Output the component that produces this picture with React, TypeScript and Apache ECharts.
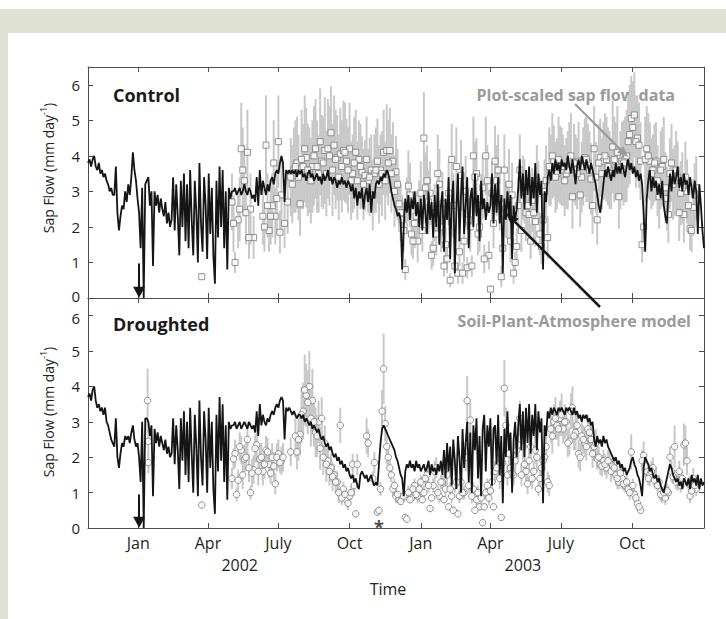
import React, { useEffect, useRef } from "react";
import * as echarts from "echarts";

// ---------- DATA ----------
// Model (Soil-Plant-Atmosphere) daily output, sampled every 2 days from 2001-10-28
const MODEL_START: [number, number, number] = [2001, 9, 28];
const MODEL_STEP_DAYS = 2;

const controlModel = [
  3.8, 3.9, 3.7, 3.9, 4.0, 3.7, 3.6, 3.8, 3.5, 3.6,
  3.4, 3.5, 3.3, 3.2, 3.0, 3.1, 2.9, 2.9, 3.7, 2.4,
  1.9, 2.3, 2.6, 2.5, 3.0, 2.7, 3.2, 2.9, 3.4, 4.1,
  3.6, 3.3, 2.8,
  2.4, 1.4, 3.1, 0.0, 3.2,
  3.3, 3.4, 2.6, 3.0, 0.9, 3.0, 2.6, 2.9, 2.4, 2.8,
  2.5, 2.3, 2.7, 2.1, 2.4, 2.0, 2.2, 3.4, 1.9, 3.2,
  2.3, 1.2, 3.3, 2.0, 3.5, 1.6, 3.2, 1.4, 3.6, 2.2,
  1.2, 3.3, 2.4, 1.0, 3.8, 2.1, 1.3, 3.4, 2.6, 1.1,
  3.5, 1.8, 3.1, 1.2, 0.4, 3.3, 1.7, 3.7, 2.0, 3.6,
  1.4, 3.0, 0.8, 3.1, 2.8, 3.0,
  3.0, 3.1, 2.9, 3.0, 3.1, 2.9, 3.0, 3.2, 3.0, 2.9,
  3.1, 3.0, 2.8, 2.9, 2.7, 3.4, 2.6, 3.6, 2.9, 3.3,
  3.1, 2.9, 3.2, 3.0, 3.3, 3.4, 3.2, 3.5, 3.6, 3.5,
  3.8, 4.0, 3.8, 2.7, 3.6, 3.5, 3.6, 3.5, 3.6, 3.5,
  3.6, 3.4, 3.6,
  3.5, 3.6, 3.4, 3.5, 3.3, 3.5, 3.6, 3.4, 3.5, 3.3,
  3.4, 3.5, 3.3, 3.4, 3.2, 3.5, 3.3, 3.4, 3.6, 3.3,
  3.4, 3.2, 3.4, 3.3, 3.1, 3.3, 3.2, 3.4, 3.2, 3.3,
  3.1, 3.3, 3.2, 3.0, 3.2, 2.8, 3.1, 2.6, 3.0, 2.8,
  3.1, 2.5, 2.9, 3.1, 2.7, 3.2, 2.4, 3.0, 2.8, 3.2,
  3.3, 3.2, 3.4, 3.3, 3.5, 3.4, 3.6, 3.5, 3.3, 3.0,
  2.8, 2.6, 2.5, 2.3, 2.4, 2.2, 0.8, 2.0, 2.8, 2.4,
  2.9, 2.2, 2.8, 2.5, 3.0, 2.3, 2.7, 2.0, 2.8, 1.9,
  2.9, 2.4, 1.8, 3.0, 2.2, 2.7, 1.7, 2.9, 2.0, 3.2,
  1.5, 2.6, 3.0, 1.3, 2.8, 2.2, 3.4, 1.1, 2.7, 3.3,
  0.7, 2.5, 3.5, 1.6, 2.9, 3.7, 1.8, 2.6, 3.4, 1.4,
  2.8, 3.1, 2.0, 3.5, 2.3, 2.9, 1.6, 3.3, 2.5, 2.8,
  2.2, 2.7, 2.4, 2.6, 3.5, 2.1,
  3.2, 2.4, 3.4, 2.1, 2.9, 0.7, 2.8, 2.2, 3.0, 2.3,
  2.9, 1.1, 2.6, 2.2, 2.5, 3.1, 3.9, 2.8, 3.5, 2.5,
  3.6, 2.9, 3.7, 2.6, 3.4, 2.8, 3.8, 2.4, 3.5, 2.9,
  3.3, 0.8, 3.0, 2.7, 3.4, 3.6, 3.3, 3.8, 3.5, 3.9,
  3.6, 3.8, 3.5, 3.9, 3.7, 3.8, 3.6, 4.0, 3.7, 3.5,
  3.9, 3.6, 3.2, 3.7, 3.9, 3.6, 4.0, 3.8, 3.6, 3.9,
  3.7, 3.5, 3.8, 3.6, 3.4, 3.2, 2.9, 2.6, 2.4, 2.8,
  3.2, 3.6, 3.4, 3.7, 3.5, 3.3, 3.6, 3.4, 3.8, 3.5,
  3.7, 3.5, 3.8, 3.6, 3.4, 3.7, 3.9, 3.6, 3.8, 3.5,
  3.7, 3.4, 3.6, 3.3, 3.5, 3.2, 2.4, 1.3, 2.8, 3.3,
  3.6, 3.0, 3.4, 3.1, 3.3, 2.9, 3.2, 2.8, 3.3, 2.6,
  2.3, 2.1, 2.9, 3.5, 3.0, 3.6, 3.2, 3.4, 3.7, 3.1,
  3.4, 3.0, 3.5, 3.2, 3.3, 2.9, 3.4, 3.1, 2.8, 3.3,
  3.0, 1.8, 3.2, 2.6, 1.9, 1.4,
];

const droughtModel = [
  3.7, 3.8, 3.6, 3.9, 4.0, 3.6, 3.4, 3.5, 3.3, 3.4,
  3.2, 3.4, 3.0, 2.9, 2.7, 2.5, 2.4, 2.3, 3.1, 2.0,
  1.7, 2.1, 2.4, 2.3, 2.6, 2.5, 2.6, 2.4, 2.7, 2.9,
  2.5, 2.3, 2.4,
  2.0, 1.3, 3.0, 0.0, 3.1,
  3.1, 3.0, 2.6, 2.9, 0.9, 2.8, 2.4, 2.7, 2.3, 2.6,
  2.4, 2.2, 2.5, 2.1, 2.3, 2.0, 2.1, 3.1, 1.8, 2.9,
  2.2, 1.1, 3.1, 1.9, 3.3, 1.5, 3.0, 1.3, 3.4, 2.1,
  1.0, 3.2, 2.3, 0.9, 3.6, 2.0, 1.2, 3.3, 2.5, 1.0,
  3.4, 1.7, 3.0, 1.1, 0.4, 3.2, 1.6, 3.7, 1.9, 3.5,
  1.3, 2.9, 0.8, 3.0, 2.8, 2.9,
  2.9, 3.0, 2.8, 2.9, 3.0, 2.8, 2.9, 3.0, 2.9, 2.8,
  3.0, 2.9, 2.8, 2.9, 2.7, 3.3, 2.6, 3.5, 2.9, 3.2,
  3.0, 2.9, 3.1, 3.0, 3.2, 3.3, 3.2, 3.4, 3.5, 3.4,
  3.6, 3.7, 3.6, 2.5, 3.4, 3.3, 3.4, 3.3, 3.2, 3.3,
  3.2, 3.1, 3.2,
  3.2, 3.1, 3.2, 3.0, 3.1, 3.0, 2.9, 3.0, 2.8, 2.9,
  2.8, 2.7, 2.8, 2.6, 2.5, 2.6, 2.4, 2.3, 2.4, 2.2,
  2.3, 2.1, 2.0, 2.1, 1.9, 2.0, 1.8, 1.9, 1.7, 1.8,
  1.6, 1.7, 1.5, 1.4, 1.5, 1.3, 1.4, 1.2, 1.1, 1.5,
  1.6, 1.5, 1.4, 1.5, 1.3, 1.4, 1.5, 1.3, 1.2, 1.3,
  1.2, 1.8, 2.4, 2.8, 2.9, 2.8, 2.7, 2.6, 2.5, 2.4,
  2.3, 2.2, 2.0, 1.9, 1.7, 1.5, 1.4, 0.9, 1.6, 1.8,
  1.7, 1.9, 1.7, 1.8, 1.6, 1.9, 1.7, 1.8, 1.6, 1.7,
  1.8, 1.6, 1.7, 1.9, 1.5, 1.8, 1.6, 1.7, 1.5, 1.8,
  1.6, 1.9, 1.5, 2.2, 1.4, 2.4, 1.6, 2.3, 1.2, 2.5,
  1.9, 1.1, 2.6, 2.0, 1.0, 2.8, 1.7, 2.4, 3.0, 1.3,
  2.7, 1.0, 2.9, 2.2, 3.1, 1.4, 2.6, 0.9, 2.8, 3.2,
  1.6, 2.9, 2.3, 3.1, 1.2, 2.8,
  2.9, 1.8, 3.2, 1.5, 2.6, 0.7, 2.8, 2.0, 3.3, 2.2,
  2.7, 1.0, 2.5, 3.0, 2.0, 2.9, 3.5, 2.2, 3.3, 2.0,
  3.4, 2.4, 3.5, 2.1, 3.2, 2.6, 3.5, 2.2, 3.3, 2.7,
  3.1, 0.7, 2.9, 2.6, 3.3, 3.1, 3.4, 3.2, 3.4, 3.3,
  3.2, 3.4, 3.3, 3.4, 3.3, 3.2, 3.4, 3.3, 3.4, 3.3,
  3.2, 3.4, 3.2, 3.3, 3.1, 3.2, 3.0, 3.2, 3.1, 3.2,
  3.0, 3.1, 2.9, 3.0, 2.5, 2.3, 2.6, 2.4, 2.5, 2.3,
  2.6, 2.4, 2.5, 2.3, 2.2, 2.1, 2.0, 1.9, 2.0, 1.8,
  1.9, 1.7, 1.8, 1.6, 1.7, 1.5, 1.6, 1.7, 1.9, 2.0,
  1.8, 1.7, 1.5, 1.4, 1.2, 0.9, 1.7, 2.0, 1.9, 1.8,
  1.6, 1.7, 1.5, 1.4, 1.5, 1.3, 1.4, 1.2, 1.1, 1.0,
  1.2, 1.4, 1.6, 1.8, 1.7, 1.5, 1.4, 1.3, 1.4, 1.2,
  1.3, 1.1, 1.4, 1.3, 1.2, 1.4, 1.1, 1.5, 1.3, 1.4,
  1.2, 1.5, 1.1, 1.4, 1.2, 1.3,
];

// Plot-scaled sap flow observations (mean and half-range).
// Set A: every 4 days from 2002-05-02; set B: every 4 days from 2002-05-04.
const OBS_A_START: [number, number, number] = [2002, 4, 2];
const OBS_B_START: [number, number, number] = [2002, 4, 4];
const OBS_STEP_DAYS = 4;

const controlObsA = [
  2.7, 1.0, 2.2, 4.2, 3.3, 4.1, 2.5, 1.7, null, null,
  2.3, 4.3, 1.9, 2.6, 2.3, 4.4, 2.9, 2.1, 2.7, 3.4,
  3.6, 3.8, 2.65, 3.7, 3.95, 3.6, 3.7, 4.2, 3.5, 3.85,
  4.15, 4.2, 4.65, 4.3, 3.95, 4.05, 4.15, 3.85, 4.2, 3.5,
  4.1, 3.9, 3.55, 3.45, 3.3, 3.6, 3.5, 3.85, 3.6, 4.1,
  4.15, 4.15, 3.85, 3.55, 2.65, 2.2, 0.8, 3.15, 1.8, 2.1,
  1.6, 2.95, 4.5, 3.3, 2.95, 1.4, 1.8, 3.2, 2.65, 1.5,
  2.95, 3.9, 0.9, 0.7, 3.45, 1.6, 0.85, 2.0, 4.0, 3.5,
  2.0, 3.1, 4.0, 1.2, 2.95, 3.85, 3.6, 0.6, 3.6, 2.45,
  1.6, 0.7, 1.45, 3.6, 3.1, 2.4, 2.35, 2.75, 2.15, 2.95,
  1.45, 3.0, 1.7, 3.6, 3.85, 3.5, 3.75, 3.6, 3.5, 3.85,
  2.85, 3.6, 3.85, 3.4, 3.95, 3.8, 3.35, 4.2, 2.2, 3.95,
  3.85, 3.9, 3.6, 4.25, 3.85, 2.85, 3.85, 3.9, 4.4, 5.05,
  5.15, 4.5, 3.85, 2.0, 4.2, 3.85, 3.6, 3.85, 2.85, 3.7,
  3.1, 2.35, 3.8, 3.3, 3.4, 2.95, 2.35, 3.0, 1.95, 2.55,
  3.1,
];
const controlErrA = [
  0.8, 0.3, 0.8, 1.3, 1.0, 1.2, 1.0, 0.6, null, null,
  0.8, 1.4, 0.6, 0.9, 0.8, 1.3, 1.0, 0.7, 0.9, 1.1,
  1.2, 1.3, 0.9, 1.2, 1.4, 1.2, 1.3, 1.4, 1.1, 1.3,
  1.5, 1.4, 1.3, 1.4, 1.2, 1.3, 1.4, 1.2, 1.3, 1.1,
  1.2, 1.1, 1.0, 1.0, 0.9, 1.0, 1.1, 1.2, 1.0, 1.2,
  1.3, 1.2, 1.1, 1.0, 0.8, 0.7, 0.3, 1.0, 0.6, 0.7,
  0.6, 0.9, 1.3, 1.0, 0.9, 0.5, 0.6, 1.0, 0.9, 0.5,
  0.9, 1.0, 0.3, 0.3, 1.0, 0.6, 0.3, 0.7, 1.1, 1.0,
  0.7, 0.9, 1.1, 0.4, 0.9, 1.0, 1.0, 0.3, 1.0, 0.8,
  0.6, 0.3, 0.5, 1.0, 0.9, 0.8, 0.8, 0.9, 0.7, 0.9,
  0.5, 0.9, 0.6, 1.0, 1.0, 1.0, 1.1, 1.0, 1.0, 1.1,
  0.9, 1.0, 1.1, 1.0, 1.1, 1.1, 1.0, 1.2, 0.7, 1.1,
  1.1, 1.2, 1.1, 1.3, 1.1, 0.9, 1.1, 1.2, 1.3, 1.2,
  1.2, 1.2, 1.1, 0.7, 1.2, 1.1, 1.0, 1.1, 0.9, 1.1,
  1.0, 0.8, 1.1, 1.0, 1.0, 0.9, 0.8, 0.9, 0.6, 0.8,
  0.9,
];
const controlObsB = [
  2.1, null, 2.5, 3.6, 2.4, 1.7, null, null, null, null,
  2.0, 2.6, 2.3, 3.8, 2.8, 1.85, null, null, null, 3.2,
  3.7, 3.4, 3.9, 4.2, 3.6, 3.3, 4.0, 3.7, 4.4, 3.8,
  3.5, 4.0, 3.6, 3.9, 3.4, 3.7, 4.1, 3.6, 3.3, 3.8,
  3.3, 3.7, 3.2, 3.9, 3.4, 2.9, 3.6, 3.2, 3.5, 3.3,
  3.8, 3.5, 3.0, 3.2, 2.4, 1.9, 2.6, 2.9, 1.6, 2.3,
  2.5, 1.9, 3.1, 2.7, 1.2, 2.4, 3.5, 2.0, 0.9, 1.1,
  0.5, 2.6, 3.7, 1.3, 0.7, 3.0, 2.2, 0.9, 3.4, 1.8,
  2.6, 1.1, 3.3, 0.25, 2.1, 3.3, 2.8, 1.4, 2.5, 3.2,
  2.9, 1.0, 2.6, 1.9, 3.0, 2.6, 1.6, 2.4, 3.3, 1.8,
  2.2, 3.3, 3.7, 4.0, 3.4, 3.9, 3.7, 3.3, 3.6, 4.0,
  3.8, 3.5, 2.9, 3.7, 3.9, 3.6, 2.6, 3.4, 3.8, 3.5,
  4.0, 3.7, 3.5, 3.9, 4.1, 3.6, 3.8, 4.0, 4.6, 4.8,
  4.4, 4.3, 1.5, 3.9, 4.0, 3.5, 3.8, 3.3, 3.6, 3.9,
  2.8, 3.5, 3.2, 3.6, 2.4, 3.1, 3.4, 2.6, 1.9, 2.9,
];
const controlErrB = [
  0.8, null, 0.9, 1.2, 0.9, 0.6, null, null, null, null,
  0.7, 0.9, 0.8, 1.2, 1.0, 0.6, null, null, null, 1.1,
  1.3, 1.2, 1.4, 1.5, 1.3, 1.2, 1.4, 1.3, 1.5, 1.3,
  1.2, 1.4, 1.3, 1.4, 1.2, 1.3, 1.4, 1.2, 1.1, 1.3,
  1.1, 1.2, 1.0, 1.2, 1.1, 1.0, 1.2, 1.1, 1.2, 1.1,
  1.2, 1.1, 1.0, 1.0, 0.8, 0.6, 0.8, 0.9, 0.5, 0.7,
  0.8, 0.6, 1.0, 0.9, 0.4, 0.8, 1.1, 0.7, 0.3, 0.4,
  0.2, 0.9, 1.1, 0.4, 0.3, 1.0, 0.7, 0.3, 1.0, 0.6,
  0.9, 0.4, 1.0, 0.1, 0.7, 1.0, 0.9, 0.5, 0.8, 1.0,
  0.9, 0.3, 0.8, 0.6, 0.9, 0.8, 0.5, 0.8, 1.0, 0.6,
  0.7, 1.0, 1.1, 1.2, 1.0, 1.2, 1.1, 1.0, 1.1, 1.2,
  1.1, 1.0, 0.9, 1.1, 1.2, 1.1, 0.8, 1.0, 1.1, 1.0,
  1.2, 1.1, 1.0, 1.2, 1.3, 1.1, 1.2, 1.3, 1.4, 1.3,
  1.3, 1.2, 0.5, 1.2, 1.2, 1.0, 1.1, 1.0, 1.1, 1.2,
  0.9, 1.0, 1.0, 1.1, 0.8, 1.0, 1.0, 0.8, 0.6, 0.9,
];

const droughtObsA = [
  1.4, 2.1, 1.35, 2.2, 1.95, 2.5, 1.0, 1.65, 2.35, 1.95,
  1.6, 2.2, 1.8, 2.0, 1.25, 2.1, 1.9, null, null, 2.15,
  null, 2.15, 2.65, 3.3, 3.75, 4.0, 3.6, 2.7, 3.0, 3.1,
  2.4, 1.9, 1.7, 1.5, 1.3, 2.9, 1.1, 0.8, 0.9, 1.8,
  0.4, null, null, null, 2.4, null, 1.85, 0.45, 1.1, 4.5,
  2.3, 1.7, 1.1, 0.9, 0.8, 0.85, 0.3, 1.0, 0.85, 1.2,
  0.9, 1.3, 1.0, 1.5, 0.55, 1.2, 1.7, 0.9, 1.3, 1.1,
  0.6, 0.9, 1.2, 0.4, 1.3, 1.0, 3.6, 3.05, 1.1, 0.8,
  0.6, 0.15, 1.0, 0.85, 1.3, 1.6, 1.8, 0.3, 3.95, 1.5,
  1.7, 1.5, 2.2, 3.1, 2.3, 1.6, 1.9, 1.4, 2.2, 1.1,
  1.7, 2.0, 1.3, 2.8, 3.0, 2.9, 3.1, 2.8, 3.0, 2.45,
  3.4, 2.7, 2.1, 2.6, 2.4, 2.8, 2.5, 2.3, 1.95, 1.8,
  1.9, 1.7, 1.85, 1.75, 1.5, 1.3, 1.4, 1.2, 1.1, 2.15,
  0.95, 0.7, 0.5, 2.05, 1.6, 1.5, 1.7, 1.4, 1.3, 0.9,
  0.85, 1.0, 1.6, 2.3, 1.35, 1.2, 2.35, 1.9, 0.9, 1.4,
  1.1,
];
const droughtErrA = [
  0.3, 0.4, 0.3, 0.4, 0.4, 0.5, 0.2, 0.4, 0.5, 0.4,
  0.4, 0.4, 0.4, 0.4, 0.3, 0.4, 0.4, null, null, 0.4,
  null, 0.5, 0.6, 0.8, 0.9, 1.0, 0.9, 0.7, 0.6, 0.6,
  0.5, 0.4, 0.4, 0.3, 0.3, 0.5, 0.2, 0.2, 0.2, 0.3,
  0.1, null, null, null, 0.4, null, 0.3, 0.1, 0.2, 1.0,
  0.5, 0.3, 0.2, 0.2, 0.1, 0.1, 0.1, 0.2, 0.1, 0.2,
  0.2, 0.2, 0.2, 0.3, 0.1, 0.2, 0.3, 0.2, 0.2, 0.2,
  0.1, 0.2, 0.2, 0.1, 0.3, 0.2, 0.7, 0.5, 0.2, 0.2,
  0.1, 0.1, 0.2, 0.2, 0.3, 0.3, 0.3, 0.1, 0.8, 0.3,
  0.3, 0.3, 0.4, 0.5, 0.4, 0.3, 0.3, 0.3, 0.4, 0.2,
  0.3, 0.4, 0.3, 0.4, 0.5, 0.4, 0.5, 0.4, 0.4, 0.4,
  0.6, 0.5, 0.4, 0.4, 0.4, 0.4, 0.4, 0.4, 0.3, 0.3,
  0.3, 0.3, 0.3, 0.3, 0.3, 0.2, 0.3, 0.2, 0.2, 0.5,
  0.2, 0.2, 0.1, 0.4, 0.3, 0.3, 0.3, 0.3, 0.2, 0.2,
  0.2, 0.2, 0.3, 0.6, 0.3, 0.2, 0.6, 0.4, 0.2, 0.3,
  0.2,
];
const droughtObsB = [
  1.95, 0.95, 2.3, 1.5, 2.0, 1.7, 1.55, 2.25, 1.6, 2.0,
  1.8, 2.15, 1.55, 1.75, 2.0, 1.85, 2.0, null, null, null,
  2.6, 2.5, 3.2, 3.9, 3.55, 3.1, 3.0, 2.6, 2.25, 2.0,
  1.8, 1.6, 1.45, 1.3, 1.0, 0.85, 0.95, 0.7, 1.0, 1.2,
  1.8, null, null, 2.6, null, 1.4, null, 0.5, 3.3, 2.95,
  2.0, 1.5, 1.2, 0.95, 0.75, 0.9, 0.25, 0.8, 1.1, 0.95,
  1.1, 0.8, 1.4, 1.2, 0.85, 1.6, 1.0, 1.3, 0.8, 1.5,
  1.1, 0.5, 1.3, 0.9, 1.0, 2.0, 1.2, 0.9, 0.5, 1.0,
  0.85, 0.6, 1.2, 1.05, 0.6, 1.7, 1.4, 1.85, 2.9, 2.1,
  1.55, 1.9, 2.35, 1.5, 1.8, 1.25, 2.3, 1.6, 2.0, 1.4,
  1.9, 2.3, 1.2, 2.6, 3.1, 2.8, 3.2, 3.0, 2.4, 3.3,
  2.6, 2.9, 2.0, 2.5, 2.3, 2.7, 2.1, 2.4, 2.0, 1.75,
  1.8, 1.9, 1.6, 1.7, 1.4, 1.55, 1.25, 1.3, 1.0, 1.2,
  0.85, 0.6, 1.9, 1.75, 1.4, 1.6, 1.35, 1.2, 0.95, 1.0,
  1.05, 2.0, 1.45, 1.3, 1.6, 1.4, 2.4, 1.25, 1.05, 1.2,
];
const droughtErrB = [
  0.3, 0.2, 0.4, 0.4, 0.4, 0.4, 0.4, 0.4, 0.4, 0.4,
  0.4, 0.4, 0.3, 0.4, 0.4, 0.3, 0.4, null, null, null,
  0.6, 0.6, 0.8, 1.0, 0.9, 0.8, 0.7, 0.6, 0.6, 0.5,
  0.5, 0.4, 0.4, 0.3, 0.3, 0.2, 0.2, 0.2, 0.2, 0.3,
  0.3, null, null, 0.5, null, 0.2, null, 0.1, 0.6, 0.5,
  0.3, 0.2, 0.2, 0.1, 0.1, 0.1, 0.1, 0.1, 0.2, 0.1,
  0.2, 0.1, 0.2, 0.2, 0.1, 0.3, 0.2, 0.2, 0.1, 0.3,
  0.2, 0.1, 0.2, 0.2, 0.2, 0.4, 0.2, 0.2, 0.1, 0.2,
  0.2, 0.1, 0.2, 0.2, 0.1, 0.3, 0.3, 0.3, 0.5, 0.4,
  0.3, 0.3, 0.4, 0.3, 0.3, 0.3, 0.4, 0.3, 0.4, 0.3,
  0.4, 0.4, 0.3, 0.5, 0.6, 0.5, 0.6, 0.5, 0.4, 0.5,
  0.4, 0.4, 0.4, 0.4, 0.4, 0.4, 0.4, 0.4, 0.3, 0.3,
  0.3, 0.3, 0.3, 0.3, 0.3, 0.3, 0.2, 0.2, 0.2, 0.2,
  0.2, 0.1, 0.3, 0.3, 0.2, 0.3, 0.2, 0.2, 0.2, 0.2,
  0.2, 0.3, 0.2, 0.2, 0.3, 0.2, 0.5, 0.2, 0.2, 0.2,
];

// Isolated early observations (days after 2002-01-01)
const controlEarlyDays = [82];
const controlEarlyObs = [0.6];
const controlEarlyErr = [0.1];
const droughtEarlyDays = [12, 13, 13, 82];
const droughtEarlyObs = [3.6, 2.45, 1.85, 0.65];
const droughtEarlyErr = [0.9, 0.3, 0.3, 0.1];

// Axis ticks and labels
const monthTickDates: [number, number, number][] = [
  [2002, 0, 1], [2002, 3, 1], [2002, 6, 1], [2002, 9, 1],
  [2003, 0, 1], [2003, 3, 1], [2003, 6, 1], [2003, 9, 1],
];
const monthTickLabels = ["Jan", "Apr", "July", "Oct", "Jan", "Apr", "July", "Oct"];
const yearLabelDates: [number, number, number][] = [[2002, 4, 12], [2003, 4, 13]];
const yearLabels = ["2002", "2003"];
const yTicks = [0, 1, 2, 3, 4, 5, 6];
const X_MIN: [number, number, number] = [2001, 9, 28];
const X_MAX: [number, number, number] = [2004, 0, 2];
const Y_MAX = 6.5;

// Event markers
const eventDate: [number, number, number] = [2002, 0, 2];
const eventTop = [0.97, 0.95];
const asteriskDate: [number, number, number] = [2002, 10, 8];
const asteriskValue = 0.02;

// ---------- HELPERS ----------
const ts = (d: [number, number, number], addDays = 0) =>
  new Date(d[0], d[1], d[2] + addDays).getTime();

const modelSeriesData = (vals: number[]) =>
  vals.map((v, i) => [ts(MODEL_START, i * MODEL_STEP_DAYS), v]);

const obsPoints = (
  sets: { start: [number, number, number]; vals: (number | null)[]; errs: (number | null)[] }[],
  earlyDays: number[], earlyVals: number[], earlyErrs: number[]
) => {
  const pts: number[][] = [];
  earlyDays.forEach((d, i) => pts.push([ts([2002, 0, 1], d), earlyVals[i], earlyErrs[i]]));
  sets.forEach((s) =>
    s.vals.forEach((v, i) => {
      if (v == null) return;
      pts.push([ts(s.start, i * OBS_STEP_DAYS), v, s.errs[i] ?? 0]);
    })
  );
  return pts;
};

function arrowHead(tip: number[], from: number[], len: number, half: number) {
  const dx = tip[0] - from[0], dy = tip[1] - from[1];
  const L = Math.hypot(dx, dy);
  const ux = dx / L, uy = dy / L;
  const bx = tip[0] - ux * len, by = tip[1] - uy * len;
  return [tip, [bx - uy * half, by + ux * half], [bx + uy * half, by - ux * half]];
}

const FONT = "'Open Sans', 'Noto Sans', sans-serif";
const AXIS_COLOR = "#4d4d4d";
const BAR_COLOR = "#c8c8c8";
const MARKER_BORDER = "#7a7a7a";
const ANNOT_COLOR = "#9a9a9a";
const BG_GREEN = "#dfe1d2";

export default function App() {
  const ref = useRef<HTMLDivElement>(null);

  useEffect(() => {
    if (!ref.current) return;
    const chart = echarts.init(ref.current, undefined, { renderer: "svg" });

    const monthTicks = monthTickDates.map((d) => ts(d));
    const yearTicks = yearLabelDates.map((d) => ts(d));
    const findLabel = (ticks: number[], labels: string[], v: number) => {
      for (let i = 0; i < ticks.length; i++) if (Math.abs(ticks[i] - v) < 3600000 * 2) return labels[i];
      return "";
    };
    const xMin = ts(X_MIN);
    const xMax = ts(X_MAX);

    const xAx = (gridIndex: number, position: string, showLabels: boolean) => ({
      type: "value",
      gridIndex,
      position,
      min: xMin,
      max: xMax,
      scale: true,
      axisLine: { show: true, onZero: false, lineStyle: { color: AXIS_COLOR, width: 1 } },
      axisTick: { show: true, inside: true, length: 5, customValues: monthTicks, lineStyle: { color: AXIS_COLOR, width: 1 } },
      axisLabel: {
        show: showLabels,
        customValues: monthTicks,
        formatter: (v: number) => findLabel(monthTicks, monthTickLabels, v),
        fontSize: 16,
        fontFamily: FONT,
        color: "#231f20",
        margin: 7,
      },
      splitLine: { show: false },
    });

    // top panel: nudge its "0" up slightly; bottom panel: nudge its "6" down slightly
    const yAx = (gridIndex: number, position: string, showLabels: boolean, nudge: "low" | "high" | null) => ({
      type: "value",
      gridIndex,
      position,
      min: 0,
      max: Y_MAX,
      axisLine: { show: true, onZero: false, lineStyle: { color: AXIS_COLOR, width: 1 } },
      axisTick: { show: true, inside: true, length: 5, customValues: yTicks, lineStyle: { color: AXIS_COLOR, width: 1 } },
      axisLabel: {
        show: showLabels,
        customValues: yTicks,
        fontSize: 15,
        lineHeight: 15,
        fontFamily: FONT,
        color: "#231f20",
        margin: 8,
        formatter: (v: number) => {
          if (nudge === "low" && v === yTicks[0]) return "{up|" + v + "}";
          if (nudge === "high" && v === yTicks[yTicks.length - 1]) return "{dn|" + v + "}";
          return String(v);
        },
        rich: {
          up: { fontSize: 15, lineHeight: 15, fontFamily: FONT, color: "#231f20", padding: [0, 0, 4, 0] },
          dn: { fontSize: 15, lineHeight: 15, fontFamily: FONT, color: "#231f20", padding: [4, 0, 0, 0] },
        },
      },
      splitLine: { show: false },
    });

    const errBarSeries = (xi: number, yi: number, pts: number[][]) => ({
      type: "custom",
      xAxisIndex: xi,
      yAxisIndex: yi,
      z: 1,
      silent: true,
      data: pts.map((p) => [p[0], p[1] - p[2], p[1] + p[2]]),
      encode: { x: 0, y: [1, 2] },
      renderItem: (params: any, api: any) => {
        const x = api.value(0);
        const p1 = api.coord([x, api.value(1)]);
        const p2 = api.coord([x, api.value(2)]);
        return {
          type: "line",
          shape: { x1: p1[0], y1: p1[1], x2: p2[0], y2: p2[1] },
          style: { stroke: BAR_COLOR, lineWidth: 2 },
        };
      },
    });

    const markerSeries = (xi: number, yi: number, pts: number[][], symbol: string) => ({
      type: "scatter",
      xAxisIndex: xi,
      yAxisIndex: yi,
      z: 2,
      silent: true,
      symbol,
      symbolSize: symbol === "rect" ? 6 : 6.5,
      itemStyle: { color: "#ffffff", borderColor: MARKER_BORDER, borderWidth: 1 },
      data: pts.map((p) => [p[0], p[1]]),
    });

    const modelSeries = (xi: number, yi: number, vals: number[], top: number) => ({
      type: "line",
      xAxisIndex: xi,
      yAxisIndex: yi,
      z: 3,
      silent: true,
      showSymbol: false,
      symbol: "none",
      lineStyle: { color: "#151515", width: 1.8 },
      data: modelSeriesData(vals),
      markLine: {
        silent: true,
        symbol: ["none", "triangle"],
        symbolSize: [12, 11],
        label: { show: false },
        lineStyle: { color: "#151515", width: 2, type: "solid" },
        data: [[{ coord: [ts(eventDate), top] }, { coord: [ts(eventDate), 0.16] }]],
      },
    });

    const ctrlPts = obsPoints(
      [
        { start: OBS_A_START, vals: controlObsA, errs: controlErrA },
        { start: OBS_B_START, vals: controlObsB, errs: controlErrB },
      ],
      controlEarlyDays, controlEarlyObs, controlEarlyErr
    );
    const drPts = obsPoints(
      [
        { start: OBS_A_START, vals: droughtObsA, errs: droughtErrA },
        { start: OBS_B_START, vals: droughtObsB, errs: droughtErrB },
      ],
      droughtEarlyDays, droughtEarlyObs, droughtEarlyErr
    );

    const grayHead = arrowHead([628, 157], [575, 104], 11, 4.5);
    const blackHead = arrowHead([506, 213], [600, 307], 13, 5);

    const yName = (y: number) => ({
      type: "text", x: 48, y, rotation: Math.PI / 2, silent: true,
      style: {
        text: "{a|Sap Flow (mm day}{s|-1}{a|)}",
        align: "center",
        verticalAlign: "middle",
        rich: {
          a: { fontSize: 14, fontFamily: FONT, fill: "#231f20", lineHeight: 18 },
          s: { fontSize: 9, fontFamily: FONT, fill: "#231f20", verticalAlign: "top", lineHeight: 10 },
        },
      },
    });

    const option: any = {
      animation: false,
      backgroundColor: "#ffffff",
      textStyle: { fontFamily: FONT },
      grid: [
        { left: 88, top: 67, width: 616, height: 231 },
        { left: 88, top: 298, width: 616, height: 230 },
      ],
      xAxis: [
        xAx(0, "bottom", false),
        xAx(0, "top", false),
        xAx(1, "bottom", true),
        xAx(1, "top", false),
        {
          type: "value",
          gridIndex: 1,
          position: "bottom",
          offset: 22,
          min: xMin,
          max: xMax,
          scale: true,
          axisLine: { show: false },
          axisTick: { show: false },
          splitLine: { show: false },
          axisLabel: {
            show: true,
            customValues: yearTicks,
            formatter: (v: number) => findLabel(yearTicks, yearLabels, v),
            fontSize: 16,
            fontFamily: FONT,
            color: "#231f20",
            margin: 7,
          },
        },
      ],
      yAxis: [
        yAx(0, "left", true, "low"),
        yAx(0, "right", false, null),
        yAx(1, "left", true, "high"),
        yAx(1, "right", false, null),
      ],
      series: [
        errBarSeries(0, 0, ctrlPts),
        markerSeries(0, 0, ctrlPts, "rect"),
        modelSeries(0, 0, controlModel, eventTop[0]),
        errBarSeries(2, 2, drPts),
        markerSeries(2, 2, drPts, "circle"),
        modelSeries(2, 2, droughtModel, eventTop[1]),
        {
          type: "scatter",
          xAxisIndex: 2,
          yAxisIndex: 2,
          z: 4,
          silent: true,
          symbolSize: 2,
          itemStyle: { color: "rgba(0,0,0,0)" },
          label: {
            show: true,
            position: "inside",
            formatter: "*",
            fontSize: 18,
            fontWeight: "bold",
            color: "#151515",
            fontFamily: FONT,
          },
          data: [[ts(asteriskDate), asteriskValue]],
        },
      ],
      graphic: [
        { type: "rect", z: -1, silent: true, shape: { x: 0, y: 9, width: 726, height: 24 }, style: { fill: BG_GREEN } },
        { type: "rect", z: -1, silent: true, shape: { x: 0, y: 9, width: 8, height: 610 }, style: { fill: BG_GREEN } },
        {
          type: "text", x: 113, y: 95, silent: true,
          style: { text: "Control", fontSize: 18, fontWeight: "bold", fontFamily: FONT, fill: "#1a1a1a", align: "left", verticalAlign: "middle" },
        },
        {
          type: "text", x: 113, y: 324, silent: true,
          style: { text: "Droughted", fontSize: 18, fontWeight: "bold", fontFamily: FONT, fill: "#1a1a1a", align: "left", verticalAlign: "middle" },
        },
        {
          type: "text", x: 675, y: 95, silent: true,
          style: { text: "Plot-scaled sap flow data", fontSize: 16, fontWeight: "bold", fontFamily: FONT, fill: ANNOT_COLOR, align: "right", verticalAlign: "middle" },
        },
        {
          type: "text", x: 691, y: 321, silent: true,
          style: { text: "Soil-Plant-Atmosphere model", fontSize: 16, fontWeight: "bold", fontFamily: FONT, fill: ANNOT_COLOR, align: "right", verticalAlign: "middle" },
        },
        {
          type: "line", silent: true, z: 10,
          shape: { x1: 575, y1: 104, x2: (grayHead[1][0] + grayHead[2][0]) / 2, y2: (grayHead[1][1] + grayHead[2][1]) / 2 },
          style: { stroke: ANNOT_COLOR, lineWidth: 2 },
        },
        { type: "polygon", silent: true, z: 10, shape: { points: grayHead }, style: { fill: ANNOT_COLOR } },
        {
          type: "line", silent: true, z: 10,
          shape: { x1: 600, y1: 307, x2: (blackHead[1][0] + blackHead[2][0]) / 2, y2: (blackHead[1][1] + blackHead[2][1]) / 2 },
          style: { stroke: "#151515", lineWidth: 2.5 },
        },
        { type: "polygon", silent: true, z: 10, shape: { points: blackHead }, style: { fill: "#151515" } },
        yName(168),
        yName(412),
        {
          type: "text", x: 388, y: 589, silent: true,
          style: { text: "Time", fontSize: 16, fontFamily: FONT, fill: "#231f20", align: "center", verticalAlign: "middle" },
        },
      ],
    };

    chart.setOption(option);
    return () => chart.dispose();
  }, []);

  return (
    <div
      ref={ref}
      style={{ position: "fixed", left: 0, top: 0, width: 726, height: 619, background: "#fff" }}
    />
  );
}
